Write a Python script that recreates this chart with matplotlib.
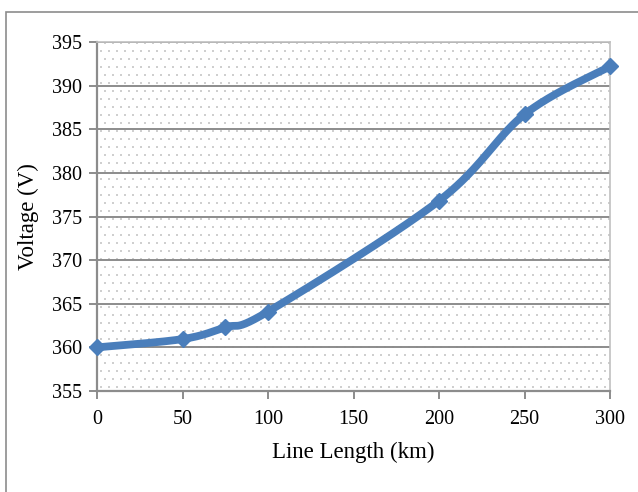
import numpy as np
import matplotlib
matplotlib.use("Agg")
import matplotlib.pyplot as plt
from matplotlib.patches import Rectangle

# line length (km) vs receiving-end voltage (V)
length_km = [0, 50, 75, 100, 200, 250, 300]
voltage_v = [360.0, 360.95, 362.3, 364.1, 376.8, 386.7, 392.2]

x_ticks = [0, 50, 100, 150, 200, 250, 300]
y_ticks = [355, 360, 365, 370, 375, 380, 385, 390, 395]

line_color = "#4a7ebb"
grid_color = "#8c8c8c"


def smooth_curve(xs, ys, n=40):
    """Bezier smoothing through every point (Catmull-Rom style control points)."""
    xs = np.asarray(xs, float)
    ys = np.asarray(ys, float)
    pts = np.column_stack([xs, ys])
    out = []
    for i in range(len(pts) - 1):
        p0 = pts[max(i - 1, 0)]
        p1 = pts[i]
        p2 = pts[i + 1]
        p3 = pts[min(i + 2, len(pts) - 1)]
        c1 = p1 + (p2 - p0) / 6.0
        c2 = p2 - (p3 - p1) / 6.0
        t = np.linspace(0, 1, n)[:, None]
        seg = ((1 - t) ** 3) * p1 + 3 * ((1 - t) ** 2) * t * c1 \
            + 3 * (1 - t) * t ** 2 * c2 + t ** 3 * p2
        out.append(seg if i == 0 else seg[1:])
    seg = np.vstack(out)
    return seg[:, 0], seg[:, 1]


plt.rcParams["font.family"] = ["Liberation Serif", "DejaVu Serif"]

fig = plt.figure(figsize=(6.38, 4.92), dpi=100)
ax = fig.add_axes([97 / 638, 1 - 391 / 492, 513 / 638, 349 / 492])

# chart frame
fig.patches.append(Rectangle((5.5 / 638, -0.1), 1.2, 1 - 11.5 / 492 + 0.1,
                             transform=fig.transFigure, fill=False,
                             edgecolor="#8c8c8c", linewidth=1.2, zorder=0))

# dotted fill of the plot area
xs_dot, ys_dot = [], []
step = 8.0
w_px, h_px = 513, 349
for r, yy in enumerate(np.arange(4, h_px, step)):
    off = 0 if r % 2 == 0 else step / 2
    for xx in np.arange(4 + off, w_px, step):
        xs_dot.append(xx / w_px)
        ys_dot.append(yy / h_px)
ax.scatter(xs_dot, ys_dot, s=1.5, color="#cfcfcf", marker="s", linewidths=0,
           transform=ax.transAxes, zorder=0)

sx, sy = smooth_curve(length_km, voltage_v)
ax.plot(sx, sy, color=line_color, linewidth=5.6, solid_capstyle="butt",
        zorder=3)
ax.plot(length_km, voltage_v, linestyle="none", marker="D", markersize=8.5,
        color=line_color, zorder=4, clip_on=False)

ax.set_xlim(0, 300)
ax.set_ylim(355, 395)
ax.set_xticks(x_ticks)
ax.set_yticks(y_ticks)
ax.yaxis.grid(True, color=grid_color, linewidth=1.4)
ax.set_axisbelow(True)

for side in ["top", "right"]:
    ax.spines[side].set_color("#c0c0c0")
    ax.spines[side].set_linewidth(1.2)
for side in ["left", "bottom"]:
    ax.spines[side].set_color(grid_color)
    ax.spines[side].set_linewidth(1.6)

ax.tick_params(axis="both", direction="out", length=6, width=1.4,
               color=grid_color, labelsize=14.5)
ax.tick_params(axis="y", pad=5)
ax.tick_params(axis="x", pad=8)

ax.set_xlabel("Line Length (km)", fontsize=16.5, labelpad=9)
ax.set_ylabel("Voltage (V)", fontsize=16.5, labelpad=9)

fig.savefig("out.png", dpi=100)
